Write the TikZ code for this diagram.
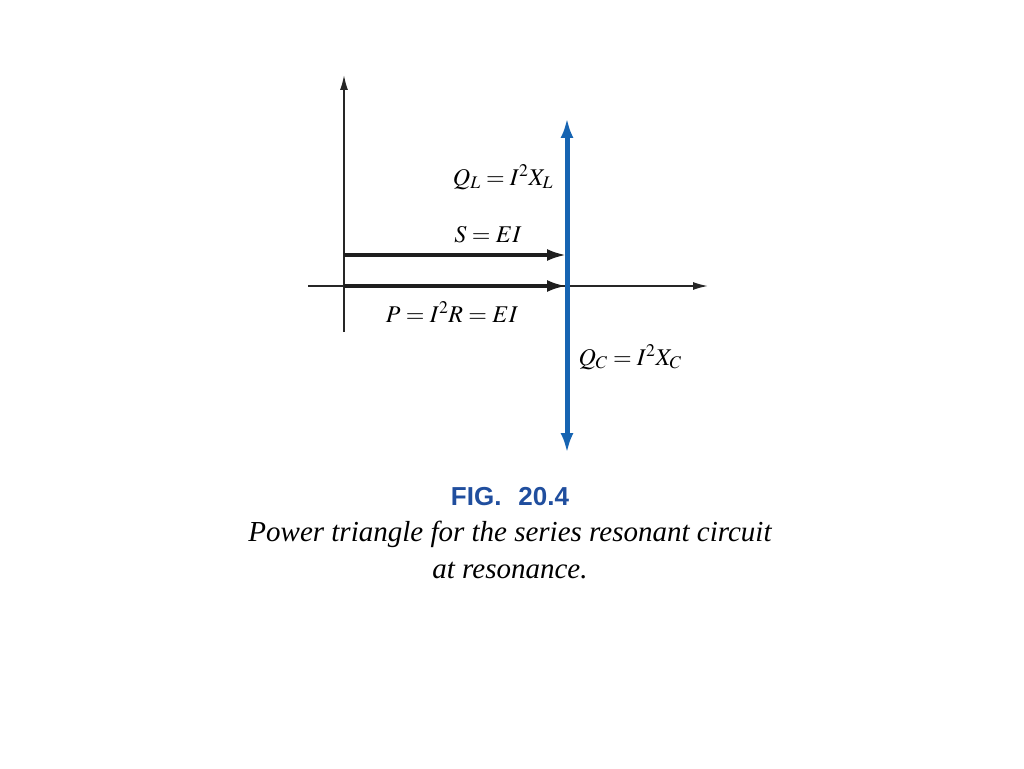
\documentclass[tikz,border=0pt]{standalone}
\usepackage{mathptmx}
\usepackage{fontspec}
\setmainfont{Liberation Serif}
\newfontfamily\figfont{Liberation Sans}
\usetikzlibrary{arrows.meta,positioning}
\definecolor{phasorblue}{RGB}{22,100,178}
\definecolor{figblue}{RGB}{32,78,158}
\definecolor{phasorgray}{RGB}{30,30,30}

\begin{document}
\begin{tikzpicture}[x=1pt,y=1pt,
    axis/.style={-{Latex[length=15pt,width=8pt]}, line width=1.6pt, black!85},
    phasor/.style={-{Latex[length=19pt,width=12pt]}, line width=3.2pt, phasorgray},
    reactive/.style={{Latex[length=20pt,width=13pt]}-{Latex[length=20pt,width=13pt]}, line width=5pt, phasorblue},
    lbl/.style={font=\fontsize{24}{28}\selectfont, inner sep=0pt},
    caption/.style={font=\itshape\fontsize{29}{34}\selectfont, inner sep=0pt}]
    \useasboundingbox (-344,286) rectangle (680,-482);

    % Axes
    \coordinate (O) at (0,0);
    \coordinate (xl) at (-36,0);
    \coordinate (xr) at (364,0);
    \coordinate (yb) at (0,-46);
    \coordinate (yt) at (0,211);
    \draw[axis] (xl) -- (xr);
    \draw[axis] (yb) -- (yt);

    % Power phasors
    \coordinate (S0) at (0,31);
    \coordinate (S1) at (222,31);
    \coordinate (P1) at (222,0);
    \coordinate (QL) at (223,168);
    \coordinate (QC) at (223,-167);
    \draw[reactive] (QC) -- (QL);
    \draw[phasor] (S0) -- (S1);
    \draw[phasor] (O) -- (P1);

    % Labels
    \node[lbl] (qllabel) at (159,109) {$Q_L = I^2X_L$};
    \node[lbl] (slabel) at (144,51) {$S = EI$};
    \node[lbl] (plabel) at (108,-26) {$P = I^2R = EI$};
    \node[lbl] (qclabel) at (286,-71) {$Q_C = I^2X_C$};

    % Caption
    \node[figblue, font=\figfont\bfseries\fontsize{26}{30}\selectfont] (fig) at (166,-211) {FIG.\hspace{0.65em}20.4};
    \node[caption] (cap1) at (166,-248) {Power triangle for the series resonant circuit};
    \node[caption] (cap2) at (166,-285) {at resonance.};
\end{tikzpicture}
\end{document}
